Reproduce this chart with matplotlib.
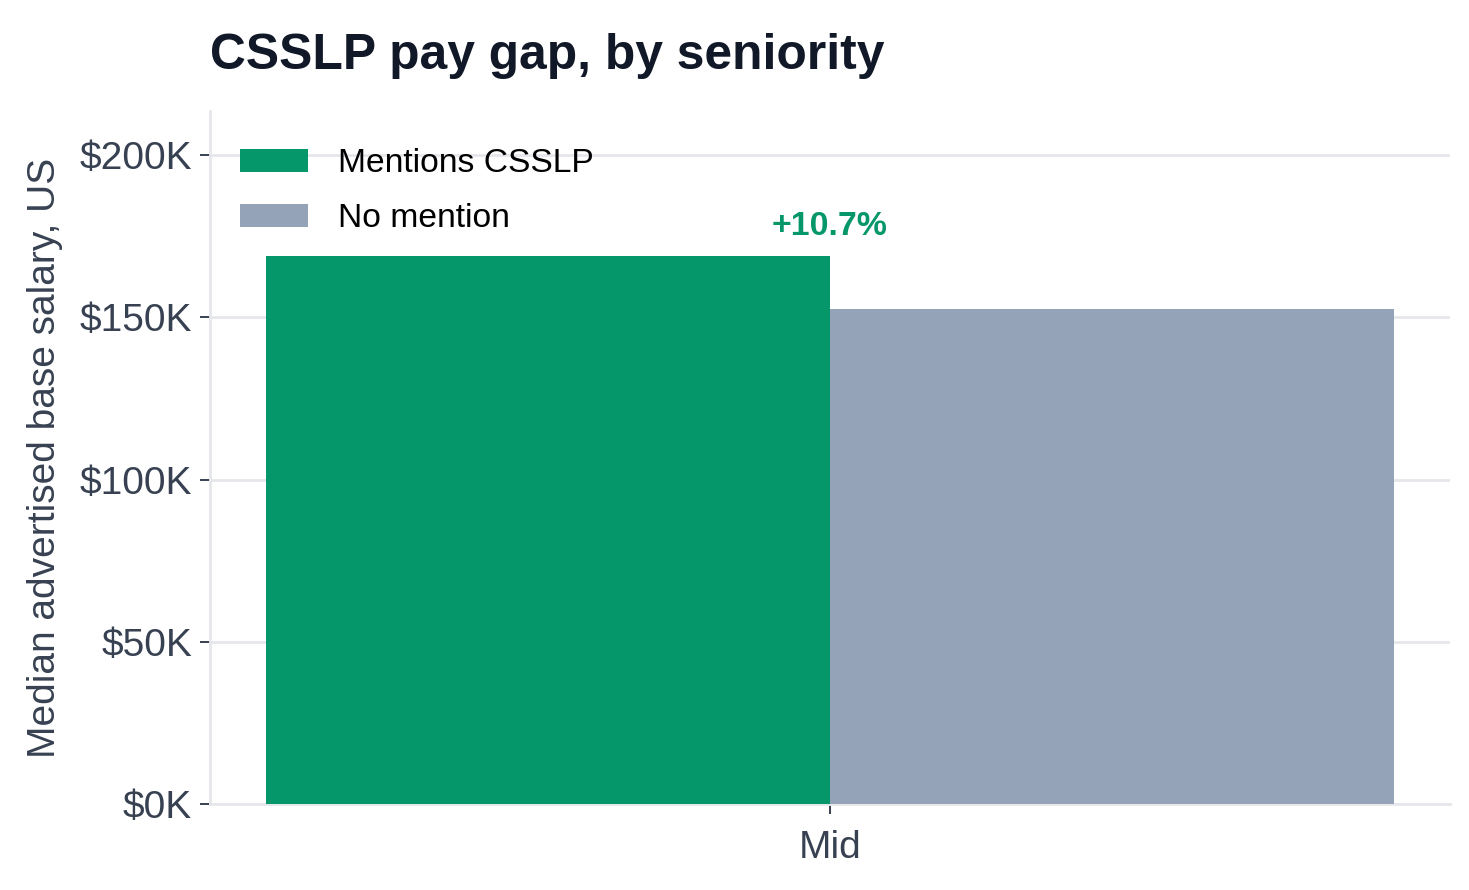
import numpy as np
import matplotlib
matplotlib.use("Agg")
import matplotlib.pyplot as plt

# данные
levels = ["Mid"]
with_cert = [169000]
no_cert = [152600]
series_labels = ["Mentions CSSLP", "No mention"]
yticks = [0, 50000, 100000, 150000, 200000]

green = "#059669"
gray = "#94a3b8"
text_dark = "#111827"
text_mid = "#374151"
grid_col = "#e5e7eb"

plt.rcParams['font.family'] = ['Liberation Sans', 'DejaVu Sans']

fig = plt.figure(figsize=(7.345, 4.45), dpi=200)
ax = fig.add_axes([0.143, 0.0966, 0.844, 0.7786])

x = np.arange(len(levels))
w = 0.5
ax.bar(x - w / 2, with_cert, width=w, color=green, label=series_labels[0], zorder=3)
ax.bar(x + w / 2, no_cert, width=w, color=gray, label=series_labels[1], zorder=3)

# подпись разницы
for i in range(len(levels)):
    gap = (with_cert[i] / no_cert[i] - 1) * 100
    top = max(with_cert[i], no_cert[i])
    ax.annotate(f"{gap:+.1f}%", (x[i], top), xytext=(0, 5), textcoords="offset points",
                ha="center", va="bottom", color=green, fontsize=12.2, fontweight="bold")

ax.set_xlim(-0.55, 0.55)
ax.set_ylim(0, 213600)
ax.set_xticks(x)
ax.set_xticklabels(levels)
ax.set_yticks(yticks)
ax.set_yticklabels([f"${v // 1000}K" for v in yticks])

ax.yaxis.grid(True, color=grid_col, linewidth=1.0, zorder=0)
ax.set_axisbelow(True)
for s in ["top", "right"]:
    ax.spines[s].set_visible(False)
for s in ["left", "bottom"]:
    ax.spines[s].set_color(grid_col)
    ax.spines[s].set_linewidth(1.0)

ax.tick_params(axis="both", colors=text_mid, labelsize=14, length=3.5, width=0.7)
ax.tick_params(axis="y", pad=3)
ax.tick_params(axis="x", pad=6)
ax.set_ylabel("Median advertised base salary, US", fontsize=14, color=text_mid, labelpad=6)
ax.set_title("CSSLP pay gap, by seniority", loc="left", fontsize=17.9, fontweight="bold",
             color=text_dark, pad=15)

ax.legend(loc="upper left", frameon=False, fontsize=12.1, handlelength=2.0, handleheight=0.69,
          handletextpad=0.9, labelspacing=0.72, borderaxespad=0.5, bbox_to_anchor=(0.0, 0.99))

fig.savefig("out.png", dpi=200)
